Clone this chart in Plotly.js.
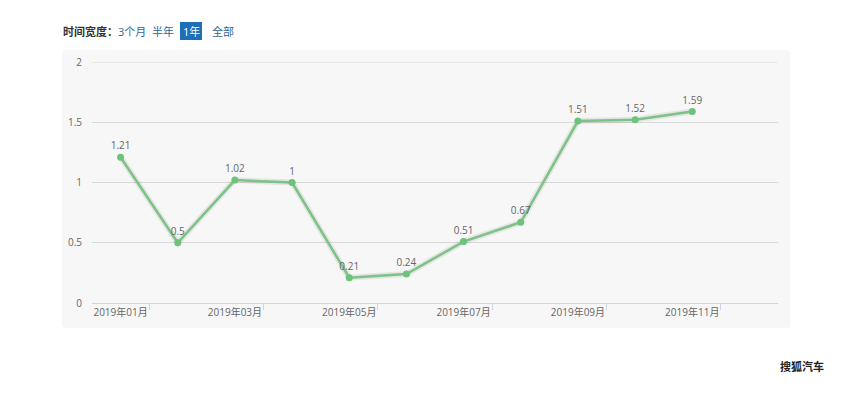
<!DOCTYPE html>
<html><head><meta charset="utf-8">
<script src="https://cdn.plot.ly/plotly-3.0.1.min.js"></script>
<style>body{margin:0;background:#fff}#c{width:852px;height:394px}</style>
</head><body><div id="c"></div>
<script>
const months = ['2019年01月','2019年02月','2019年03月','2019年04月','2019年05月','2019年06月','2019年07月','2019年08月','2019年09月','2019年10月','2019年11月','2019年12月'];
const values = [1.21,0.5,1.02,1,0.21,0.24,0.51,0.67,1.51,1.52,1.59,null];
const valueLabels = ['1.21','0.5','1.02','1','0.21','0.24','0.51','0.67','1.51','1.52','1.59',''];
const tickLabels = ['2019年01月','2019年03月','2019年05月','2019年07月','2019年09月','2019年11月'];
const boundaryTicks = [0.5,2.5,4.5,6.5,8.5,10.5];
const yTicks = [0,0.5,1,1.5,2];
const rangeButtons = ['3个月','半年','1年','全部'];

const font = '"Open Sans", "Noto Sans CJK SC", sans-serif';
const green = '#7cc385';

const traces = [
  {x: months, y: values, type:'scatter', mode:'lines', hoverinfo:'skip',
   line:{color:'rgba(0,0,0,0.07)', width:6}, showlegend:false},
  {x: months, y: values, type:'scatter', mode:'lines+markers+text',
   text: valueLabels, textposition:'top center',
   textfont:{family:font, size:10, color:'#666'},
   line:{color:green, width:2.5}, marker:{color:'#6cc37a', size:7},
   showlegend:false, cliponaxis:false},
  {x: [], y: [], xaxis:'x2', type:'scatter', showlegend:false}
];

const px = v => (v-92)/686;
const py = v => (303-v)/241;
const ann = [
  {text:'<b>时间宽度：</b>', xref:'paper', yref:'paper', x:px(61), y:py(31), xanchor:'left', yanchor:'middle', showarrow:false, font:{family:font, size:11, color:'#333'}},
  {text:rangeButtons[0], xref:'paper', yref:'paper', x:px(116), y:py(31), xanchor:'left', yanchor:'middle', showarrow:false, font:{family:font, size:11, color:'#336699'}},
  {text:rangeButtons[1], xref:'paper', yref:'paper', x:px(150), y:py(31), xanchor:'left', yanchor:'middle', showarrow:false, font:{family:font, size:11, color:'#336699'}},
  {text:rangeButtons[2], xref:'paper', yref:'paper', x:px(191), y:py(31), xanchor:'center', yanchor:'middle', showarrow:false, font:{family:font, size:11, color:'#fff'}},
  {text:rangeButtons[3], xref:'paper', yref:'paper', x:px(210), y:py(31), xanchor:'left', yanchor:'middle', showarrow:false, font:{family:font, size:11, color:'#336699'}},
  {text:'<b>搜狐汽车</b>', xref:'paper', yref:'paper', x:px(826), y:py(366), xanchor:'right', yanchor:'middle', showarrow:false, font:{family:font, size:11, color:'#222'}}
];

const layout = {
  width:852, height:394,
  margin:{l:92, r:74, t:62, b:91},
  paper_bgcolor:'#fff', plot_bgcolor:'rgba(0,0,0,0)',
  font:{family:font, color:'#666'},
  xaxis:{type:'category', categoryarray:months, range:[-0.5,11.5],
    tickmode:'array', tickvals:tickLabels, ticktext:tickLabels,
    ticks:'', showgrid:false, zeroline:false,
    showline:true, linecolor:'#ccd6eb', linewidth:1,
    tickfont:{family:font, size:10, color:'#666'}, fixedrange:true},
  xaxis2:{overlaying:'x', anchor:'y', range:[-0.5,11.5], tickmode:'array', tickvals:boundaryTicks,
    ticks:'outside', ticklen:6, tickcolor:'#ccd6eb', showticklabels:false, showgrid:false, zeroline:false, showline:false, side:'bottom'},
  yaxis:{range:[0,2], tickmode:'array', tickvals:yTicks, ticktext:yTicks.map(String),
    showgrid:true, gridcolor:'#d8d8d8', gridwidth:1, zeroline:false, showline:false, ticks:'',
    ticklabelstandoff:9, tickfont:{family:font, size:10, color:'#666'}, fixedrange:true},
  shapes:[
    {type:'path', xref:'paper', yref:'paper', layer:'below',
     path:`M ${px(66)} ${py(50)} L ${px(786)} ${py(50)} Q ${px(790)} ${py(50)} ${px(790)} ${py(54)} L ${px(790)} ${py(324)} Q ${px(790)} ${py(328)} ${px(786)} ${py(328)} L ${px(66)} ${py(328)} Q ${px(62)} ${py(328)} ${px(62)} ${py(324)} L ${px(62)} ${py(54)} Q ${px(62)} ${py(50)} ${px(66)} ${py(50)} Z`,
     fillcolor:'#f7f7f7', line:{width:0}},
    {type:'rect', xref:'paper', yref:'paper', x0:px(180), x1:px(202), y0:py(40), y1:py(22),
     fillcolor:'#1d6fb8', line:{width:0}, layer:'below'},
    {type:'line', xref:'paper', yref:'y', x0:0, x1:1, y0:yTicks[yTicks.length-1], y1:yTicks[yTicks.length-1],
     line:{color:'#d8d8d8', width:1}, layer:'below'}
  ],
  annotations: ann,
  showlegend:false
};
Plotly.newPlot('c', traces, layout, {displayModeBar:false, staticPlot:true});
</script></body></html>
